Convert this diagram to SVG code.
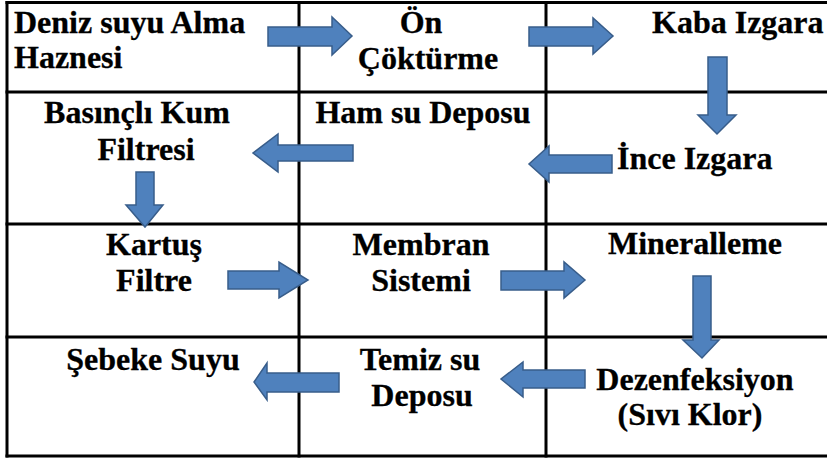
<svg xmlns="http://www.w3.org/2000/svg" width="827" height="461" viewBox="0 0 827 461">
<style>
.t{font-family:'Liberation Serif','Tinos','DejaVu Serif',serif;font-weight:700;font-size:32px;fill:#000;stroke:#000;stroke-width:0.3}
.m{text-anchor:middle}
.g{stroke:#000;stroke-width:3;fill:none}
.a{fill:#4F81BD;stroke:#385D8A;stroke-width:1.5;stroke-linejoin:miter}
</style>
<rect x="0" y="0" width="827" height="461" fill="#fff"/>
<g id="grid" class="g">
<line x1="5.5" y1="2.5" x2="827" y2="2.5"/>
<line x1="5.5" y1="92" x2="827" y2="92"/>
<line x1="5.5" y1="224" x2="827" y2="224"/>
<line x1="5.5" y1="337" x2="827" y2="337"/>
<line x1="5.5" y1="456" x2="827" y2="456"/>
<line x1="7" y1="1" x2="7" y2="457.5"/>
<line x1="299" y1="1" x2="299" y2="457.5"/>
<line x1="546" y1="1" x2="546" y2="457.5"/>
</g>
<g id="n1"><text class="t" x="14" y="33">Deniz suyu Alma</text><text class="t" x="14" y="68">Haznesi</text></g>
<g id="n2"><text class="t m" x="421" y="33">Ön</text><text class="t m" x="428" y="69">Çöktürme</text></g>
<g id="n3"><text class="t" x="652" y="33">Kaba Izgara</text></g>
<g id="n4"><text class="t" x="617" y="169">İnce Izgara</text></g>
<g id="n5"><text class="t m" x="423" y="123">Ham su Deposu</text></g>
<g id="n6"><text class="t m" x="137" y="123">Basınçlı Kum</text><text class="t m" x="146" y="160">Filtresi</text></g>
<g id="n7"><text class="t m" x="154" y="255">Kartuş</text><text class="t m" x="154" y="291">Filtre</text></g>
<g id="n8"><text class="t m" x="421" y="255">Membran</text><text class="t m" x="421" y="291">Sistemi</text></g>
<g id="n9"><text class="t m" x="695" y="254">Mineralleme</text></g>
<g id="n10"><text class="t m" x="695" y="390">Dezenfeksiyon</text><text class="t m" x="690" y="425">(Sıvı Klor)</text></g>
<g id="n11"><text class="t m" x="420" y="370">Temiz su</text><text class="t m" x="422" y="406">Deposu</text></g>
<g id="n12"><text class="t m" x="153" y="370">Şebeke Suyu</text></g>
<g id="connectors">
<polygon class="a" points="268,27 332,27 332,17 352,36 332,55 332,46 268,46"/>
<polygon class="a" points="529,27 593,27 593,18 613,36 593,54 593,46 529,46"/>
<polygon class="a" points="708,57 727,57 727,115 736,115 717,134 698,115 708,115"/>
<polygon class="a" points="612,155 612,173 549,173 549,182 529,164 549,146 549,155"/>
<polygon class="a" points="353,145 353,161 278,161 278,172 253,153 278,134 278,145"/>
<polygon class="a" points="136,172 154,172 154,205 163,205 145,227 126,205 136,205"/>
<polygon class="a" points="228,271 279,271 279,262 308,280 279,298 279,289 228,289"/>
<polygon class="a" points="501,271 564,271 564,262 585,280 564,298 564,290 501,290"/>
<polygon class="a" points="693,276 711,276 711,340 719,340 702,358 683,340 693,340"/>
<polygon class="a" points="585,370 585,388 523,388 523,397 501,379 523,362 523,370"/>
<polygon class="a" points="339,373 339,392 267,392 267,400 254,382 267,363 267,373"/>
</g>
</svg>
